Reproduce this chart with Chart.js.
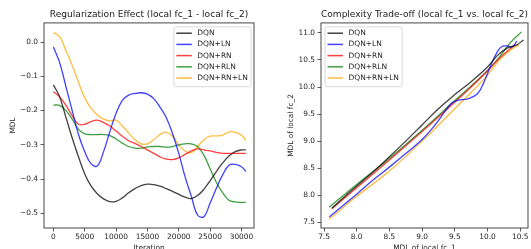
<!DOCTYPE html>
<html>
<head>
<meta charset="utf-8">
<script src="https://cdn.jsdelivr.net/npm/chart.js@4.4.0/dist/chart.umd.min.js"></script>
<style>
  html, body { margin: 0; padding: 0; background: #fff; overflow: hidden; }
  #wrap { position: relative; width: 531px; height: 249px; overflow: hidden; }
  .box { position: absolute; top: 0; height: 258px; }
</style>
</head>
<body>
<div id="wrap">
  <div class="box" style="left:0;width:266px"><canvas id="left"></canvas></div>
  <div class="box" style="left:266px;width:265px"><canvas id="right"></canvas></div>
</div>
<script>
// Series names and colours
const seriesNames = ['DQN', 'DQN+LN', 'DQN+RN', 'DQN+RLN', 'DQN+RN+LN'];
const seriesColors = ['rgba(0,0,0,0.75)', 'rgba(0,0,255,0.75)', 'rgba(255,0,0,0.75)',
                      'rgba(0,128,0,0.75)', 'rgba(255,165,0,0.75)'];

// Left panel: MDL difference over training iterations
const iterations = [0, 1000, 2000, 3000, 4000, 5000, 6000, 7000, 8000, 9000, 10000,
    11000, 12000, 13000, 14000, 15000, 16000, 17000, 18000, 19000, 20000,
    21000, 22000, 23000, 24000, 25000, 26000, 27000, 28000, 29000, 30000, 30700];
const dqn = [-0.125, -0.16, -0.22, -0.28, -0.335, -0.385, -0.42, -0.443, -0.458, -0.466, -0.465,
    -0.455, -0.44, -0.428, -0.419, -0.415, -0.416, -0.421, -0.428, -0.436, -0.445,
    -0.453, -0.457, -0.448, -0.43, -0.405, -0.378, -0.353, -0.333, -0.32, -0.315, -0.315];
const dqnLn = [-0.014, -0.06, -0.13, -0.2, -0.27, -0.32, -0.355, -0.362, -0.32, -0.262, -0.208,
    -0.17, -0.155, -0.15, -0.148, -0.152, -0.165, -0.19, -0.22, -0.267, -0.325,
    -0.393, -0.45, -0.505, -0.51, -0.47, -0.427, -0.388, -0.36, -0.357, -0.364, -0.378];
const dqnRn = [-0.145, -0.16, -0.185, -0.215, -0.24, -0.24, -0.232, -0.228, -0.235, -0.245, -0.26,
    -0.275, -0.288, -0.296, -0.305, -0.315, -0.325, -0.335, -0.342, -0.343, -0.338,
    -0.328, -0.318, -0.312, -0.315, -0.318, -0.322, -0.325, -0.325, -0.325, -0.325, -0.325];
const dqnRln = [-0.184, -0.185, -0.2, -0.225, -0.255, -0.268, -0.27, -0.27, -0.27, -0.273, -0.283,
    -0.295, -0.305, -0.31, -0.31, -0.306, -0.305, -0.305, -0.307, -0.305, -0.3,
    -0.297, -0.297, -0.305, -0.33, -0.37, -0.41, -0.44, -0.462, -0.467, -0.468, -0.468];
const dqnRnLn = [0.028, 0.016, -0.025, -0.068, -0.117, -0.163, -0.193, -0.213, -0.225, -0.23, -0.228,
    -0.245, -0.265, -0.285, -0.297, -0.297, -0.285, -0.27, -0.263, -0.275, -0.3,
    -0.318, -0.323, -0.305, -0.285, -0.275, -0.274, -0.272, -0.262, -0.263, -0.272, -0.287];

const leftXTicks = [0, 5000, 10000, 15000, 20000, 25000, 30000];
const leftYTicks = [0.0, -0.1, -0.2, -0.3, -0.4, -0.5];

// Right panel: MDL of local fc_1 (x) against MDL of local fc_2 (y)
const dqnX     = [7.62, 7.8, 8.0, 8.25, 8.5, 8.75, 9.0, 9.25, 9.5, 9.75, 10.0, 10.15, 10.3, 10.45, 10.55];
const dqnY     = [7.76, 7.96, 8.17, 8.43, 8.71, 9.0, 9.3, 9.6, 9.86, 10.1, 10.37, 10.58, 10.72, 10.78, 10.87];
const dqnLnX   = [7.58, 7.8, 8.0, 8.25, 8.5, 8.75, 9.0, 9.2, 9.35, 9.45, 9.55, 9.7, 9.85, 9.95, 10.05, 10.15, 10.22, 10.3, 10.38, 10.45];
const dqnLnY   = [7.6, 7.82, 8.02, 8.28, 8.52, 8.77, 9.03, 9.3, 9.55, 9.7, 9.76, 9.78, 9.88, 10.1, 10.4, 10.65, 10.75, 10.76, 10.74, 10.85];
const dqnRnX   = [7.62, 8.0, 8.5, 9.0, 9.5, 9.75, 10.0, 10.2, 10.42];
const dqnRnY   = [7.75, 8.14, 8.65, 9.18, 9.72, 10.0, 10.3, 10.55, 10.78];
const dqnRlnX  = [7.58, 8.0, 8.5, 9.0, 9.5, 9.75, 10.0, 10.2, 10.35, 10.52];
const dqnRlnY  = [7.78, 8.2, 8.68, 9.2, 9.75, 10.02, 10.3, 10.58, 10.82, 11.02];
const dqnRnLnX = [7.58, 8.0, 8.5, 9.0, 9.5, 9.75, 10.0, 10.2, 10.35, 10.48];
const dqnRnLnY = [7.56, 7.98, 8.45, 9.0, 9.6, 9.9, 10.22, 10.52, 10.68, 10.78];

const rightXTicks = [7.5, 8.0, 8.5, 9.0, 9.5, 10.0, 10.5];
const rightYTicks = [7.5, 8.0, 8.5, 9.0, 9.5, 10.0, 10.5, 11.0];

const FONT = '"DejaVu Sans", sans-serif';
const TEXT = '#262626';

// axes frame (matplotlib draws all four spines)
const frame = {
    id: 'frame',
    afterDatasetsDraw(chart) {
        const { ctx, chartArea: a } = chart;
        ctx.save();
        ctx.strokeStyle = '#333';
        ctx.lineWidth = 0.9;
        ctx.strokeRect(a.left, a.top, a.right - a.left, a.bottom - a.top);
        ctx.restore();
    }
};

// legend box inside the plot, built from the datasets
const boxLegend = {
    id: 'boxLegend',
    afterDraw(chart, args, opts) {
        const { ctx, chartArea: a } = chart;
        const sets = chart.data.datasets;
        ctx.save();
        ctx.font = '7.5px ' + FONT;
        const tw = Math.max(...sets.map(d => ctx.measureText(d.label).width));
        const w = 2.5 + 15.5 + 5.5 + tw + 3.2;
        const rowH = 11.2;
        const h = sets.length * rowH + 3.8;
        const x = opts.side === 'left' ? a.left + 4 : a.right - 3 - w;
        const y = a.top + 4;
        ctx.fillStyle = 'rgba(255,255,255,0.8)';
        ctx.strokeStyle = '#d0d0d0';
        ctx.lineWidth = 0.8;
        ctx.beginPath();
        ctx.roundRect(x, y, w, h, 2);
        ctx.fill();
        ctx.stroke();
        sets.forEach((d, i) => {
            const cy = y + 6.3 + i * rowH;
            ctx.strokeStyle = d.borderColor;
            ctx.lineWidth = 1.5;
            ctx.beginPath();
            ctx.moveTo(x + 2.5, cy);
            ctx.lineTo(x + 18, cy);
            ctx.stroke();
            ctx.fillStyle = TEXT;
            ctx.textBaseline = 'middle';
            ctx.fillText(d.label, x + 23.5, cy);
        });
        ctx.restore();
    }
};

const minus = s => s.replace('-', '\u2212');

function axis(title, ticks, fmt, titlePad, fit) {
    return {
        type: 'linear',
        min: fit.min,
        max: fit.max,
        afterBuildTicks: s => { s.ticks = ticks.map(v => ({ value: v })); },
        afterFit: fit.afterFit,
        grid: { display: true, drawOnChartArea: false, drawTicks: true, tickLength: 3.5, tickColor: '#333', lineWidth: 0.8 },
        border: { display: false },
        ticks: { font: { family: FONT, size: 7.4 }, color: TEXT, padding: fit.tickPad, maxRotation: 0, autoSkip: false, callback: fmt },
        title: { display: true, text: title, font: { family: FONT, size: 7.4 }, color: TEXT, padding: titlePad }
    };
}

function pairs(xs, ys) { return xs.map((x, i) => ({ x: x, y: ys[i] })); }

function makeSets(list) {
    return list.map((pts, i) => ({
        label: seriesNames[i],
        data: pts,
        borderColor: seriesColors[i],
        backgroundColor: seriesColors[i],
        borderWidth: 1.3,
        pointRadius: 0,
        fill: false,
        tension: 0.4,
        showLine: true
    }));
}

function plotTitle(text) {
    return { display: true, text: text, fullSize: false, color: '#1a1a1a',
             font: { family: FONT, size: 9.1, weight: 'normal' }, padding: { top: 9.5, bottom: 2.5 } };
}

// Left chart
new Chart(document.getElementById('left').getContext('2d'), {
    type: 'line',
    data: {
        datasets: makeSets([dqn, dqnLn, dqnRn, dqnRln, dqnRnLn].map(s => pairs(iterations, s)))
    },
    options: {
        responsive: true,
        maintainAspectRatio: false,
        animation: false,
        layout: { padding: { left: 0, right: 12, top: 0, bottom: 0 } },
        plugins: {
            legend: { display: false },
            tooltip: { enabled: false },
            title: plotTitle('Regularization Effect (local fc_1 - local fc_2)'),
            boxLegend: { side: 'right' }
        },
        scales: {
            x: axis('Iteration', leftXTicks, v => String(v), { top: 0, bottom: 5.6 },
                { min: -1500, max: 32000, tickPad: 1, afterFit: s => { s.height = 30; } }),
            y: axis('MDL', leftYTicks, v => minus(v.toFixed(1)), { top: 8.5, bottom: 0 },
                { min: -0.543, max: 0.056, tickPad: 2.5, afterFit: s => { s.width = 44; } })
        }
    },
    plugins: [frame, boxLegend]
});

// Right chart
new Chart(document.getElementById('right').getContext('2d'), {
    type: 'scatter',
    data: {
        datasets: makeSets([
            pairs(dqnX, dqnY), pairs(dqnLnX, dqnLnY), pairs(dqnRnX, dqnRnY),
            pairs(dqnRlnX, dqnRlnY), pairs(dqnRnLnX, dqnRnLnY)
        ])
    },
    options: {
        responsive: true,
        maintainAspectRatio: false,
        animation: false,
        layout: { padding: { left: 0, right: 3, top: 0, bottom: 0 } },
        plugins: {
            legend: { display: false },
            tooltip: { enabled: false },
            title: plotTitle('Complexity Trade-off (local fc_1 vs. local fc_2)'),
            boxLegend: { side: 'left' }
        },
        scales: {
            x: axis('MDL of local fc_1', rightXTicks, v => v.toFixed(1), { top: 0, bottom: 5.6 },
                { min: 7.454, max: 10.62, tickPad: 1, afterFit: s => { s.height = 30; } }),
            y: axis('MDL of local fc_2', rightYTicks, v => v.toFixed(1), { top: 20.5, bottom: 0 },
                { min: 7.395, max: 11.185, tickPad: 2.5, afterFit: s => { s.width = 55; } })
        }
    },
    plugins: [frame, boxLegend]
});
</script>
</body>
</html>
